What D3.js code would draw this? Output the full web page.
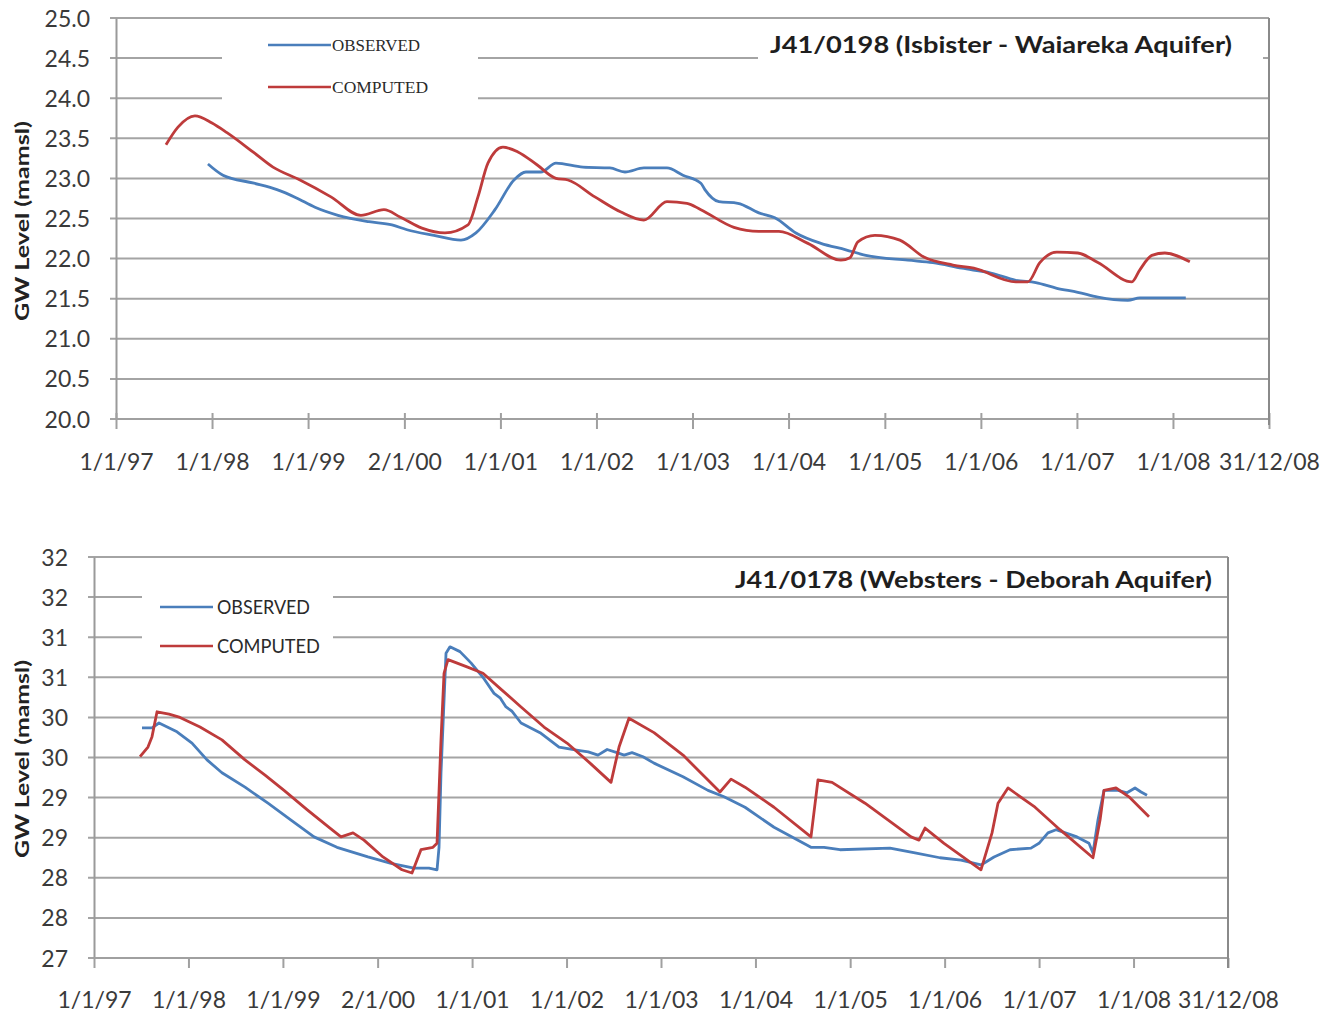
<!DOCTYPE html>
<html><head><meta charset="utf-8">
<script src="https://cdn.jsdelivr.net/npm/d3@7"></script>
<style>body{margin:0;background:#fff}svg{display:block;background:#fff}</style>
</head><body>
<svg id="c" width="1337" height="1021"></svg>
<script>
// ---------------- DATA ----------------
const tickDates = ["1997-01-01","1998-01-01","1999-01-01","2000-01-02","2001-01-01","2002-01-01","2003-01-01","2004-01-01","2005-01-01","2006-01-01","2007-01-01","2008-01-01","2008-12-31"];
const tickLabels = ["1/1/97","1/1/98","1/1/99","2/1/00","1/1/01","1/1/02","1/1/03","1/1/04","1/1/05","1/1/06","1/1/07","1/1/08","31/12/08"];
const seriesNames = ["OBSERVED","COMPUTED"];

const topTitle = "J41/0198 (Isbister - Waiareka Aquifer)";
const topYTicks = [20.0,20.5,21.0,21.5,22.0,22.5,23.0,23.5,24.0,24.5,25.0];
// [decimal year, GW level]
const topObserved = [[1997.957,23.18],[1998.113,23.04],[1998.436,22.94],[1998.675,22.86],[1998.873,22.76],[1999.071,22.64],[1999.310,22.54],[1999.633,22.46],[1999.872,22.42],[2000.028,22.36],[2000.309,22.29],[2000.590,22.23],[2000.746,22.32],[2000.944,22.61],[2001.142,22.98],[2001.266,23.08],[2001.422,23.08],[2001.579,23.19],[2001.860,23.14],[2002.140,23.13],[2002.297,23.08],[2002.494,23.13],[2002.734,23.13],[2002.900,23.04],[2003.087,22.94],[2003.129,22.86],[2003.275,22.71],[2003.472,22.69],[2003.691,22.57],[2003.857,22.51],[2004.076,22.32],[2004.336,22.19],[2004.596,22.11],[2004.804,22.04],[2005.241,21.98],[2005.502,21.95],[2005.803,21.88],[2006.105,21.82],[2006.365,21.73],[2006.573,21.70],[2006.792,21.63],[2007.010,21.58],[2007.219,21.52],[2007.531,21.48],[2007.656,21.51],[2008.134,21.51]];
const topComputed = [[1997.520,23.42],[1997.645,23.64],[1997.822,23.78],[1997.999,23.69],[1998.155,23.57],[1998.436,23.32],[1998.634,23.14],[1998.915,22.98],[1999.237,22.77],[1999.549,22.54],[1999.789,22.61],[1999.955,22.52],[2000.184,22.38],[2000.424,22.32],[2000.663,22.42],[2000.767,22.77],[2000.871,23.19],[2001.027,23.39],[2001.183,23.33],[2001.381,23.17],[2001.579,23.00],[2001.703,22.98],[2001.984,22.77],[2002.255,22.58],[2002.494,22.48],[2002.734,22.71],[2002.942,22.69],[2003.087,22.61],[2003.431,22.39],[2003.691,22.34],[2003.899,22.34],[2004.201,22.19],[2004.544,21.98],[2004.638,22.01],[2004.721,22.21],[2004.898,22.29],[2005.158,22.23],[2005.408,22.02],[2005.710,21.92],[2005.928,21.88],[2006.365,21.71],[2006.490,21.71],[2006.615,21.95],[2006.792,22.08],[2007.010,22.07],[2007.219,21.95],[2007.573,21.71],[2007.656,21.86],[2007.781,22.04],[2007.916,22.07],[2008.176,21.96]];

const bottomTitle = "J41/0178 (Websters - Deborah Aquifer)";
const bottomYTicks = [27.0,27.5,28.0,28.5,29.0,29.5,30.0,30.5,31.0,31.5,32.0];
const bottomObserved = [[1997.508,29.87],[1997.614,29.87],[1997.688,29.93],[1997.878,29.82],[1998.037,29.68],[1998.196,29.47],[1998.354,29.31],[1998.598,29.13],[1998.841,28.93],[1999.085,28.72],[1999.328,28.51],[1999.571,28.38],[1999.899,28.26],[2000.143,28.18],[2000.386,28.12],[2000.545,28.12],[2000.630,28.10],[2000.651,28.38],[2000.672,29.31],[2000.725,30.80],[2000.767,30.88],[2000.873,30.82],[2000.989,30.68],[2001.116,30.50],[2001.233,30.30],[2001.300,30.24],[2001.360,30.13],[2001.420,30.08],[2001.519,29.93],[2001.720,29.81],[2001.921,29.63],[2002.122,29.59],[2002.230,29.57],[2002.333,29.53],[2002.430,29.60],[2002.534,29.56],[2002.610,29.53],[2002.693,29.56],[2002.810,29.51],[2002.926,29.43],[2003.233,29.26],[2003.497,29.09],[2003.667,29.01],[2003.889,28.88],[2004.196,28.63],[2004.587,28.38],[2004.725,28.38],[2004.894,28.35],[2005.423,28.37],[2005.688,28.31],[2005.952,28.25],[2006.175,28.22],[2006.386,28.16],[2006.524,28.26],[2006.693,28.35],[2006.915,28.37],[2007.000,28.43],[2007.095,28.56],[2007.180,28.60],[2007.402,28.51],[2007.529,28.43],[2007.571,28.31],[2007.624,28.72],[2007.688,29.09],[2007.836,29.09],[2007.931,29.06],[2008.016,29.12],[2008.080,29.07],[2008.143,29.03]];
const bottomComputed = [[1997.487,29.51],[1997.571,29.63],[1997.614,29.76],[1997.667,30.07],[1997.794,30.04],[1997.910,30.00],[1998.122,29.88],[1998.354,29.72],[1998.598,29.47],[1998.810,29.28],[1999.011,29.09],[1999.254,28.85],[1999.497,28.62],[1999.614,28.51],[1999.741,28.56],[1999.857,28.47],[2000.058,28.26],[2000.259,28.10],[2000.365,28.06],[2000.460,28.35],[2000.587,28.38],[2000.630,28.43],[2000.672,29.72],[2000.704,30.55],[2000.746,30.72],[2000.947,30.63],[2001.116,30.55],[2001.317,30.34],[2001.519,30.13],[2001.762,29.88],[2002.005,29.68],[2002.249,29.43],[2002.471,29.19],[2002.556,29.63],[2002.661,29.99],[2002.926,29.81],[2003.233,29.53],[2003.624,29.07],[2003.741,29.23],[2003.889,29.13],[2004.196,28.88],[2004.587,28.51],[2004.661,29.22],[2004.810,29.19],[2005.159,28.93],[2005.646,28.51],[2005.730,28.47],[2005.794,28.62],[2005.995,28.43],[2006.386,28.10],[2006.503,28.56],[2006.566,28.93],[2006.672,29.12],[2006.958,28.88],[2007.222,28.60],[2007.571,28.25],[2007.646,28.72],[2007.688,29.09],[2007.815,29.12],[2007.952,29.01],[2008.164,28.76]];

// ---------------- HELPERS ----------------
const T0 = Date.UTC(1997,0,1);
const DAYS_PER_YEAR = 4382/12;
const yearToDate = y => new Date(T0 + (y-1997)*DAYS_PER_YEAR*864e5);
const parse = d3.utcParse("%Y-%m-%d");
const BLUE = "#4a7ebb", RED = "#be3b3b", GRID = "#a4a4a4", TXT = "#3a3a3a";
const svg = d3.select("#c");

function drawChart(o){
  const g = svg.append("g");
  const x = d3.scaleUtc().domain([parse("1997-01-01"), parse("2008-12-31")]).range([o.left, o.right]);
  const y = d3.scaleLinear().domain(o.yDomain).range([o.bottom, o.top]);

  // gridlines
  g.append("g").selectAll("line").data(o.yTicks).join("line")
    .attr("x1", o.left - 6).attr("x2", o.right)
    .attr("y1", d => y(d)).attr("y2", d => y(d))
    .attr("stroke", GRID).attr("stroke-width", 2);

  // y axis
  const ya = g.append("g").attr("transform", `translate(${o.left},0)`)
    .call(d3.axisLeft(y).tickValues(o.yTicks).tickFormat(o.yFormat).tickSize(0));
  ya.select(".domain").attr("stroke", "#9a9a9a").attr("stroke-width", 2);
  ya.selectAll("text").attr("x", -26).attr("dy", "0.35em")
    .attr("font-family", "Lato, sans-serif").attr("font-size", 23).attr("fill", TXT);

  // x axis
  const xa = g.append("g").attr("transform", `translate(0,${o.bottom + o.tickShift})`)
    .call(d3.axisBottom(x).tickValues(tickDates.map(parse)).tickFormat((d,i) => tickLabels[i]).tickSize(o.tickLen));
  xa.select(".domain").remove();
  xa.selectAll(".tick line").attr("stroke", "#a0a0a0").attr("stroke-width", 2);
  xa.selectAll("text").attr("y", o.labelY - o.bottom - o.tickShift).attr("dy", "0.35em")
    .attr("font-family", "Lato, sans-serif").attr("font-size", 23).attr("fill", TXT);
  g.append("line").attr("x1", o.left).attr("x2", o.right).attr("y1", o.bottom).attr("y2", o.bottom)
    .attr("stroke", "#a0a0a0").attr("stroke-width", 2);

  // y axis title
  g.append("text").attr("transform", `translate(${o.yTitleX},${o.yTitleY}) rotate(-90)`)
    .attr("text-anchor", "middle").attr("dy", "0.35em")
    .attr("font-family", "Lato, sans-serif").attr("font-weight", "bold").attr("font-size", 19)
    .attr("textLength", o.yTitleLen).attr("lengthAdjust", "spacingAndGlyphs")
    .attr("fill", "#222").text("GW Level (mamsl)");

  // series
  const line = d3.line().curve(o.curve).x(d => x(yearToDate(d[0]))).y(d => y(d[1]));
  g.append("path").datum(o.observed).attr("d", line).attr("fill", "none")
    .attr("stroke", BLUE).attr("stroke-width", 2.8).attr("stroke-linejoin", "round");
  g.append("path").datum(o.computed).attr("d", line).attr("fill", "none")
    .attr("stroke", RED).attr("stroke-width", 2.8).attr("stroke-linejoin", "round");

  // legend
  const L = o.legend;
  g.append("rect").attr("x", L.bx).attr("y", L.by).attr("width", L.bw).attr("height", L.bh).attr("fill", "#fff");
  [BLUE, RED].forEach((c, i) => {
    const yy = L.y0 + i * L.dy;
    g.append("line").attr("x1", L.x1).attr("x2", L.x2).attr("y1", yy).attr("y2", yy)
      .attr("stroke", c).attr("stroke-width", 2.6);
    g.append("text").attr("x", L.tx).attr("y", yy).attr("dy", "0.35em")
      .attr("font-family", L.font).attr("font-size", L.size).attr("fill", "#2a2a2a")
      .attr("textLength", L.lens[i]).attr("lengthAdjust", "spacingAndGlyphs")
      .text(seriesNames[i]);
  });

  // title
  if (o.titleBox) g.append("rect").attr("x", o.titleBox[0]).attr("y", o.titleBox[1])
      .attr("width", o.titleBox[2]).attr("height", o.titleBox[3]).attr("fill", "#fff");
  g.append("text").attr("x", o.titleX).attr("y", o.titleY).attr("dy", "0.35em")
    .attr("font-family", "Lato, sans-serif").attr("font-weight", "bold").attr("font-size", 22)
    .attr("textLength", o.titleLen).attr("lengthAdjust", "spacingAndGlyphs")
    .attr("fill", "#1e1e1e").text(o.title);

  // right border (drawn last so nothing covers it)
  g.append("line").attr("x1", o.right).attr("x2", o.right).attr("y1", o.top).attr("y2", o.bottom + o.rightExt)
    .attr("stroke", "#8a8a8a").attr("stroke-width", 2);
}

drawChart({
  left: 116, right: 1269, top: 18, bottom: 419, yDomain: [20, 25], yTicks: topYTicks,
  yFormat: d3.format(".1f"), tickShift: -6, tickLen: 16, labelY: 462, rightExt: 6,
  yTitleX: 22, yTitleY: 221, yTitleLen: 200, curve: d3.curveMonotoneX,
  observed: topObserved, computed: topComputed,
  legend: {bx: 222, by: 26, bw: 256, bh: 78, x1: 268, x2: 331, tx: 332, y0: 45, dy: 42,
           font: "'Liberation Serif', serif", size: 16, lens: [88, 96]},
  title: topTitle, titleX: 770, titleY: 45, titleLen: 462, titleBox: [758, 28, 505, 34]
});

drawChart({
  left: 94, right: 1228, top: 557, bottom: 958, yDomain: [27, 32], yTicks: bottomYTicks,
  yFormat: d3.format(".0f"), tickShift: 0, tickLen: 10, labelY: 1000, rightExt: 10,
  yTitleX: 22, yTitleY: 759, yTitleLen: 198, curve: d3.curveLinear,
  observed: bottomObserved, computed: bottomComputed,
  legend: {bx: 142, by: 583, bw: 191, bh: 77, x1: 160, x2: 213, tx: 217, y0: 607, dy: 39,
           font: "Lato, sans-serif", size: 19, lens: [93, 103]},
  title: bottomTitle, titleX: 735, titleY: 580, titleLen: 477, titleBox: null
});
</script>
</body></html>
